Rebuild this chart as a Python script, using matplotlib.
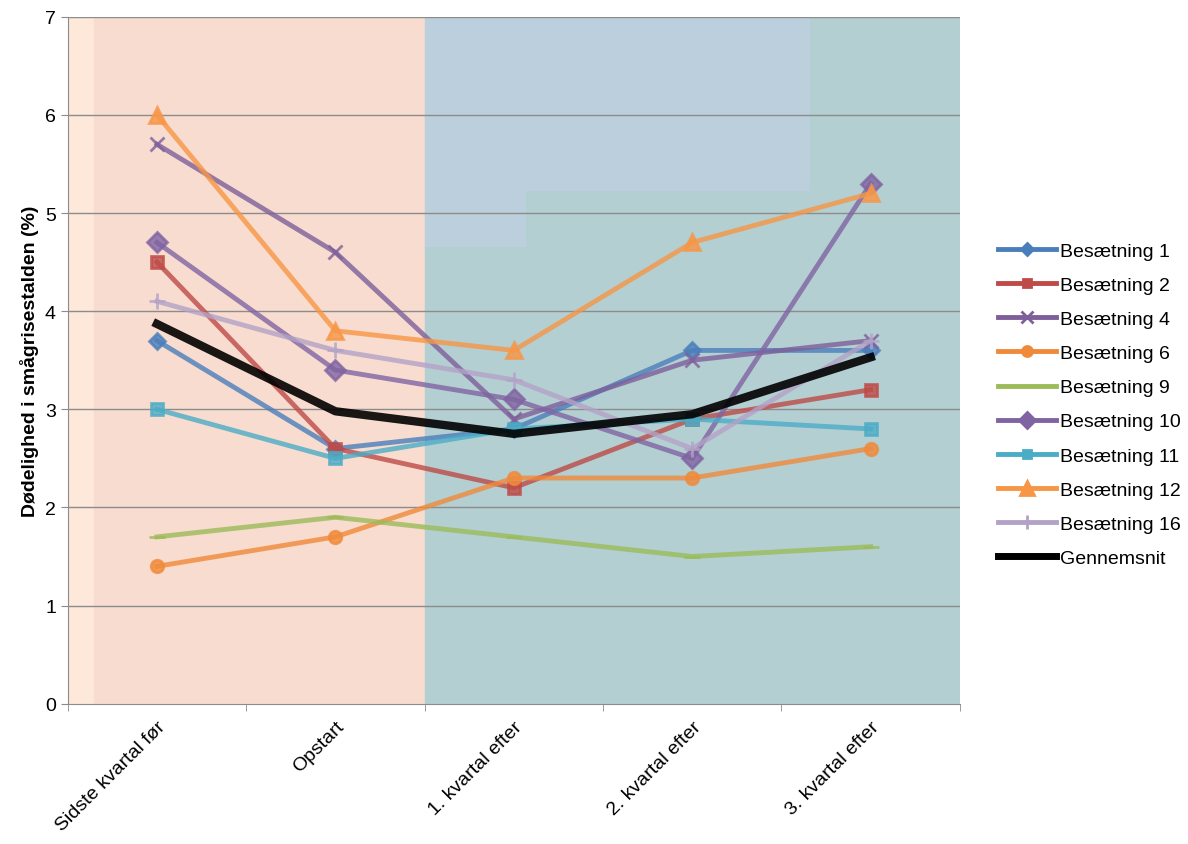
import matplotlib
matplotlib.use("Agg")
import matplotlib.pyplot as plt
from matplotlib.lines import Line2D

plt.rcParams['font.family'] = ['Liberation Sans', 'DejaVu Sans']

categories = ["Sidste kvartal før", "Opstart", "1. kvartal efter", "2. kvartal efter", "3. kvartal efter"]
series_names = ["Besætning 1", "Besætning 2", "Besætning 4", "Besætning 6", "Besætning 9",
                "Besætning 10", "Besætning 11", "Besætning 12", "Besætning 16", "Gennemsnit"]
b1 = [3.7, 2.6, 2.8, 3.6, 3.6]
b2 = [4.5, 2.6, 2.2, 2.9, 3.2]
b4 = [5.7, 4.6, 2.9, 3.5, 3.7]
b6 = [1.4, 1.7, 2.3, 2.3, 2.6]
b9 = [1.7, 1.9, 1.7, 1.5, 1.6]
b10 = [4.7, 3.4, 3.1, 2.5, 5.3]
b11 = [3.0, 2.5, 2.8, 2.9, 2.8]
b12 = [6.0, 3.8, 3.6, 4.7, 5.2]
b16 = [4.1, 3.6, 3.3, 2.6, 3.7]
avg = [3.87, 2.98, 2.75, 2.95, 3.53]
values = [b1, b2, b4, b6, b9, b10, b11, b12, b16, avg]
colors = ["#4a7ebb", "#be4b48", "#7e5f9a", "#f08a3a", "#9bbb59", "#8064a2", "#4bacc6", "#f79646", "#b3a2c7", "#000000"]
markers = ["D", "s", "x", "o", "_", "D", "s", "^", "+", None]
msizes = [8, 8, 10, 9, 12, 10, 8, 12, 12, 0]

fig = plt.figure(figsize=(11.88, 8.45), dpi=100)
ax = fig.add_axes([0.057, 0.166, 0.751, 0.813])
x = list(range(len(categories)))
ax.set_xlim(-0.5, 4.5)
ax.set_ylim(0, 7)
ax.axvspan(-0.5, -0.35, color="#fde8da", zorder=0)
ax.axvspan(-0.35, 1.5, color="#f8dccf", zorder=0)
ax.axvspan(1.5, 4.5, color="#b3cfd2", zorder=0)
ax.fill_between([1.5, 2.07], 4.65, 7, color="#bccfdc", zorder=0, lw=0)
ax.fill_between([2.07, 3.66], 5.22, 7, color="#bccfdc", zorder=0, lw=0)
for yv in range(1, 8):
    ax.axhline(yv, color="#8c8c8c", lw=1, zorder=1)

handles = []
for name, v, c, m, ms in zip(series_names, values, colors, markers, msizes):
    if name == "Gennemsnit":
        ax.plot(x, v, color=c, lw=6, zorder=5, alpha=0.9)
        handles.append(Line2D([], [], color=c, lw=5))
    else:
        ax.plot(x, v, color=c, lw=3.5, marker=m, ms=ms, mew=2, zorder=3, alpha=0.8)
        handles.append(Line2D([], [], color=c, lw=3.5, marker=m, ms=ms * 0.8, mew=2))

ax.set_xticks(x)
ax.set_xticklabels(categories, rotation=45, ha="right", rotation_mode="anchor", fontsize=14)
ax.set_xticks([i + 0.5 for i in range(-1, 5)], minor=True)
ax.tick_params(axis="x", which="major", length=0, pad=10)
ax.tick_params(axis="x", which="minor", length=5, color="#8c8c8c")
ax.set_yticks(range(0, 8))
ax.tick_params(axis="y", labelsize=14, length=5, color="#8c8c8c")
ax.set_ylabel("Dødelighed i smågrisestalden (%)", fontsize=14, fontweight="bold")
for s in ["top", "right"]:
    ax.spines[s].set_visible(False)
ax.spines["left"].set_color("#8c8c8c")
ax.spines["bottom"].set_color("#8c8c8c")

fig.legend(handles, series_names, loc="center left", bbox_to_anchor=(0.825, 0.52),
           frameon=False, fontsize=14, handlelength=3, labelspacing=0.85, handletextpad=0.2)
fig.savefig("out.png", dpi=100)
